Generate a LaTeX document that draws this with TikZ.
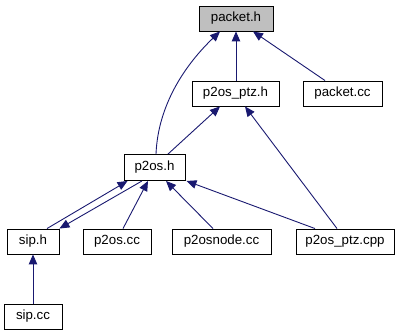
\documentclass[tikz,border=0pt]{standalone}
\usepackage{fontspec}
\setmainfont{Liberation Sans}
\usetikzlibrary{arrows.meta}
\definecolor{edgeblue}{HTML}{191970}
\definecolor{rootgray}{HTML}{BFBFBF}
\tikzset{
  file/.style={draw=black, line width=0.9pt, fill=white, rectangle, inner sep=0pt,
    minimum height=25pt, font=\fontsize{13.3}{15}\selectfont},
  rootfile/.style={file, fill=rootgray},
  dep/.style={draw=edgeblue, line width=0.9pt,
    -{Triangle[length=10pt,width=8.5pt,fill=edgeblue]}}
}
\begin{document}
\begin{tikzpicture}[x=1pt,y=-1pt]
\useasboundingbox (0,0) rectangle (401,336);
% files
\node[rootfile, minimum width=74pt] (packeth) at (236,18.5) {packet.h};
\node[file, minimum width=87pt] (p2osptzh) at (235.5,93.5) {p2os\_ptz.h};
\node[file, minimum width=79pt] (packetcc) at (342.5,93.5) {packet.cc};
\node[file, minimum width=61pt, minimum height=26pt] (p2osh) at (154.5,167.5) {p2os.h};
\node[file, minimum width=52pt] (siph) at (33,241.5) {sip.h};
\node[file, minimum width=68pt] (p2oscc) at (117,241.5) {p2os.cc};
\node[file, minimum width=99pt] (p2osnodecc) at (221.5,241.5) {p2osnode.cc};
\node[file, minimum width=98pt] (p2osptzcpp) at (345,241.5) {p2os\_ptz.cpp};
\node[file, minimum width=58pt] (sipcc) at (33,316.5) {sip.cc};
% include relations
\draw[dep] ([xshift=0.5pt]p2osptzh.north) -- (packeth.south);
\draw[dep] ([xshift=-17.5pt]packetcc.north) -- ([xshift=17pt]packeth.south);
\draw[dep] ([xshift=1.5pt]p2osh.north) .. controls (158,105) and (185,65) .. ([xshift=-16pt]packeth.south);
\draw[dep] ([xshift=13.5pt]p2osh.north) -- ([xshift=-15.5pt]p2osptzh.south);
\draw[dep] ([xshift=-8pt]p2osptzcpp.north) -- ([xshift=9.5pt]p2osptzh.south);
\draw[dep] ([xshift=14pt]siph.north) -- ([xshift=4pt]p2osh.south west);
\draw[dep] ([xshift=-12.5pt]p2osh.south) -- (siph.north east);
\draw[dep] ([xshift=6pt]p2oscc.north) -- ([xshift=-6.5pt]p2osh.south);
\draw[dep] ([xshift=-8.5pt]p2osnodecc.north) -- ([xshift=11.5pt]p2osh.south);
\draw[dep] ([xshift=-30pt]p2osptzcpp.north) -- ([xshift=1pt]p2osh.south east);
\draw[dep] (sipcc.north) -- (siph.south);
\end{tikzpicture}
\end{document}
